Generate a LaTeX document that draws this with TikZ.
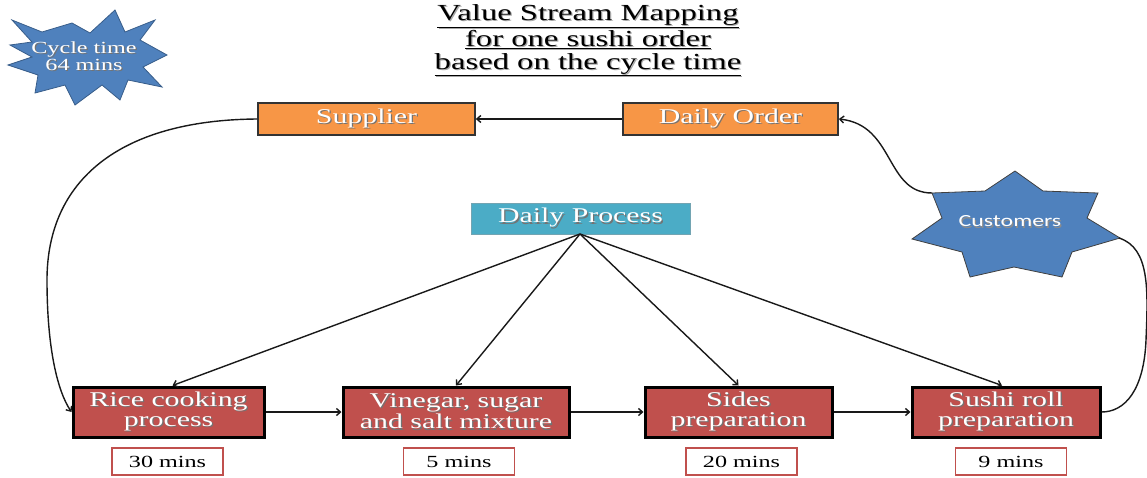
\documentclass[tikz,border=0pt]{standalone}
\usepackage{fontspec}
\setmainfont{Liberation Serif}[FakeStretch=1.42]
\newfontfamily\custfont{Carlito}[FakeStretch=1.4]
\usetikzlibrary{arrows.meta}
\definecolor{vsorange}{HTML}{F79646}
\definecolor{vsred}{HTML}{C0504D}
\definecolor{vsblue}{HTML}{4F81BD}
\definecolor{vsblueline}{HTML}{385D8A}
\definecolor{vsteal}{HTML}{4BACC6}
\definecolor{vstealline}{HTML}{357D91}
\newcommand\shd[2][black!55]{\rlap{\kern1.2pt\raisebox{-1.2pt}{\textcolor{#1}{#2}}}#2}
\begin{document}
\begin{tikzpicture}[x=1pt,y=-1pt,
  tip/.style={-{Straight Barb[length=4pt,width=7pt]}},
  conn/.style={draw=black!90, line width=1.4pt},
  orangebox/.style={draw=black!80, line width=1.6pt, fill=vsorange, text=white,
    minimum height=32pt, inner sep=0pt, font=\fontsize{21}{20}\selectfont},
  tealbox/.style={draw=vstealline!70, line width=0.8pt, fill=vsteal, text=white,
    minimum height=31pt, inner sep=0pt, font=\fontsize{21}{20}\selectfont},
  procbox/.style={draw=black, line width=3pt, fill=vsred, text=white, align=center,
    minimum height=50pt, inner sep=0pt, font=\fontsize{21}{20}\selectfont},
  timebox/.style={draw=vsred, line width=1.2pt, fill=white, text=black,
    minimum width=111pt, minimum height=27pt, inner sep=0pt, font=\fontsize{17}{17}\selectfont},
]
\useasboundingbox (0,0) rectangle (1147,477);

% Cycle time starburst
\filldraw[fill=vsblue, draw=vsblueline, line width=0.8pt]
  (115,10) -- (125,32) -- (155,20) -- (140,40) -- (167,55) -- (143,67) -- (162,87)
  -- (128,80) -- (120,100) -- (102,85) -- (75,105) -- (65,85) -- (35,93) -- (38,75)
  -- (8,65) -- (32,57) -- (10,45) -- (32,42) -- (12,20) -- (42,32) -- (72,23)
  -- (90,33) -- cycle;
\node[text=white, align=center, font=\fontsize{17}{14}\selectfont] (cycle) at (84,57)
  {\shd{Cycle time}\\\shd{64 mins}};

% Title
\node[align=center, font=\fontsize{23}{23}\selectfont] (title) at (588,41)
  {\shd[black!35]{\underline{Value Stream Mapping}}\\
   \shd[black!35]{\underline{for one sushi order}}\\
   \shd[black!35]{\underline{based on the cycle time}}};

% Top boxes
\node[orangebox, minimum width=217pt] (supplier) at (366.5,119) {\shd{Supplier}};
\node[orangebox, minimum width=215pt] (order) at (730.5,119) {\shd{Daily Order}};
\node[tealbox, minimum width=219pt] (daily) at (580.5,218.5) {\shd{Daily Process}};

% Customers star
\filldraw[fill=vsblue, draw=black!75, line width=0.8pt]
  (1015,171) -- (1043,191) -- (1098,193) -- (1087,218) -- (1120,238) -- (1072,252)
  -- (1062,277) -- (1014,267) -- (970,277) -- (962,252) -- (912,239) -- (942,218)
  -- (932,193) -- (985,191) -- cycle;
\coordinate (custUL) at (932,193);
\coordinate (custR) at (1119,238);
\node[text=white, font=\custfont\fontsize{17}{17}\selectfont] (cust) at (1010,222) {\shd[black!45]{Customers}};

% Process boxes
\node[procbox, minimum width=191pt] (rice) at (168.5,412) {\shd{Rice cooking}\\\shd{process}};
\node[procbox, minimum width=226pt] (vinegar) at (456,412) {\shd{Vinegar, sugar}\\\shd{and salt mixture}};
\node[procbox, minimum width=187pt] (sides) at (738.5,412) {\shd{Sides}\\\shd{preparation}};
\node[procbox, minimum width=188pt] (sushi) at (1006,412) {\shd{Sushi roll}\\\shd{preparation}};

% Time boxes
\node[timebox] (t1) at (167.5,461.5) {30 mins};
\node[timebox] (t2) at (459,461.5) {5 mins};
\node[timebox] (t3) at (741.5,461.5) {20 mins};
\node[timebox] (t4) at (1011,461.5) {9 mins};

% Connectors
\draw[conn, tip] (order.west) -- (supplier.east);
\draw[conn, tip] (custUL) .. controls (885,193) and (895,125) .. (order.east);
\draw[conn] (custR) .. controls (1150,248) and (1148,290) .. (1146,340)
  .. controls (1144,390) and (1125,412) .. (sushi.east);
\draw[conn, tip] (supplier.west) .. controls (120,120) and (47,180) .. (47,280)
  .. controls (47,350) and (58,392) .. (rice.west);

\coordinate (dpb) at (580,234);
\draw[conn, tip] (dpb) -- ([xshift=4pt]rice.north);
\draw[conn, tip] (dpb) -- (vinegar.north);
\draw[conn, tip] (dpb) -- (sides.north);
\draw[conn, tip] (dpb) -- ([xshift=-4pt]sushi.north);

\draw[conn, tip] (rice.east) -- (vinegar.west);
\draw[conn, tip] (vinegar.east) -- (sides.west);
\draw[conn, tip] (sides.east) -- (sushi.west);
\end{tikzpicture}
\end{document}
